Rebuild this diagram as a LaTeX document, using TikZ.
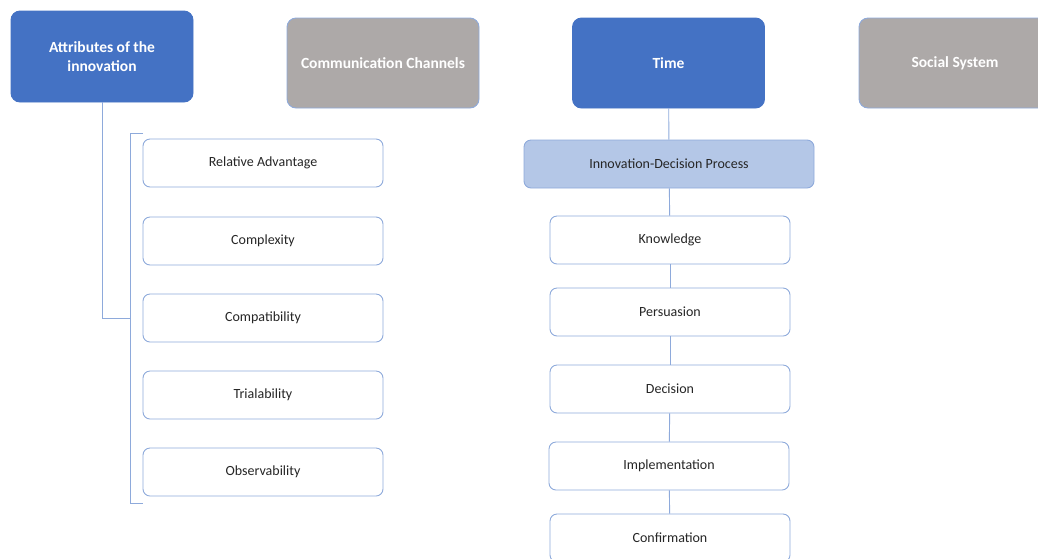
\documentclass[tikz,border=0pt]{standalone}
\usepackage{fontspec}
\setmainfont{Carlito}
\definecolor{headblue}{HTML}{4472C4}
\definecolor{headgray}{HTML}{ADA9A8}
\definecolor{procblue}{HTML}{B4C7E7}
\definecolor{edgeblue}{HTML}{8EAADB}
\definecolor{txtdark}{HTML}{262626}
\tikzset{
  headbox/.style={draw=edgeblue, line width=0.9pt, rounded corners=9pt, minimum width=192pt,
    minimum height=90pt, text=white, font=\fontsize{15.5}{19}\selectfont\bfseries, align=center},
  itembox/.style={draw=edgeblue, line width=0.9pt, rounded corners=7pt, fill=white, minimum width=240pt,
    minimum height=48pt, text=txtdark, font=\fontsize{14}{17}\selectfont},
  link/.style={draw=edgeblue, line width=0.9pt}
}
\begin{document}
\begin{tikzpicture}[x=1pt, y=-1pt]
          \useasboundingbox (0,0) rectangle (1038,558);
          \clip (0,0) rectangle (1038,558);
          % top row
          \node [headbox, fill=headblue, draw=headblue, minimum width=182pt, minimum height=91pt] (attr) at (102,56.5) {Attributes of the\\innovation};
          \node [headbox, fill=headgray] (chan) at (383,63) {Communication Channels};
          \node [headbox, fill=headblue, draw=headblue] (time) at (668.5,63) {Time};
          \node [headbox, fill=headgray] (soc) at (955,63) {Social System};
          % attributes
          \node [itembox] (relad) at (263,163) {Relative Advantage};
          \node [itembox] (cplx) at (263,241) {Complexity};
          \node [itembox] (compat) at (263,318) {Compatibility};
          \node [itembox] (trial) at (263,395) {Trialability};
          \node [itembox] (obs) at (263,472) {Observability};
          \coordinate (brktop) at (143,133);
          \coordinate (brkbot) at (143,503);
          \coordinate (brk) at (130,318);
          \draw [link] (brktop) -- ++(-13,0) -- ([xshift=-13pt]brkbot) -- (brkbot);
          \draw [link] (attr.south) |- (brk);
          % decision process
          \node [itembox, fill=procblue, minimum width=290pt] (idp) at (669,164) {Innovation-Decision Process};
          \node [itembox] (know) at (670,240) {Knowledge};
          \node [itembox] (pers) at (670,312) {Persuasion};
          \node [itembox] (deci) at (670,389) {Decision};
          \node [itembox] (impl) at (669,466) {Implementation};
          \node [itembox] (conf) at (670,538) {Confirmation};
          \draw [link] (time) -- (idp);
          \draw [link] (idp) -- (know);
          \draw [link] (know) -- (pers);
          \draw [link] (pers) -- (deci);
          \draw [link] (deci) -- (impl);
          \draw [link] (impl) -- (conf);
\end{tikzpicture}
\end{document}
